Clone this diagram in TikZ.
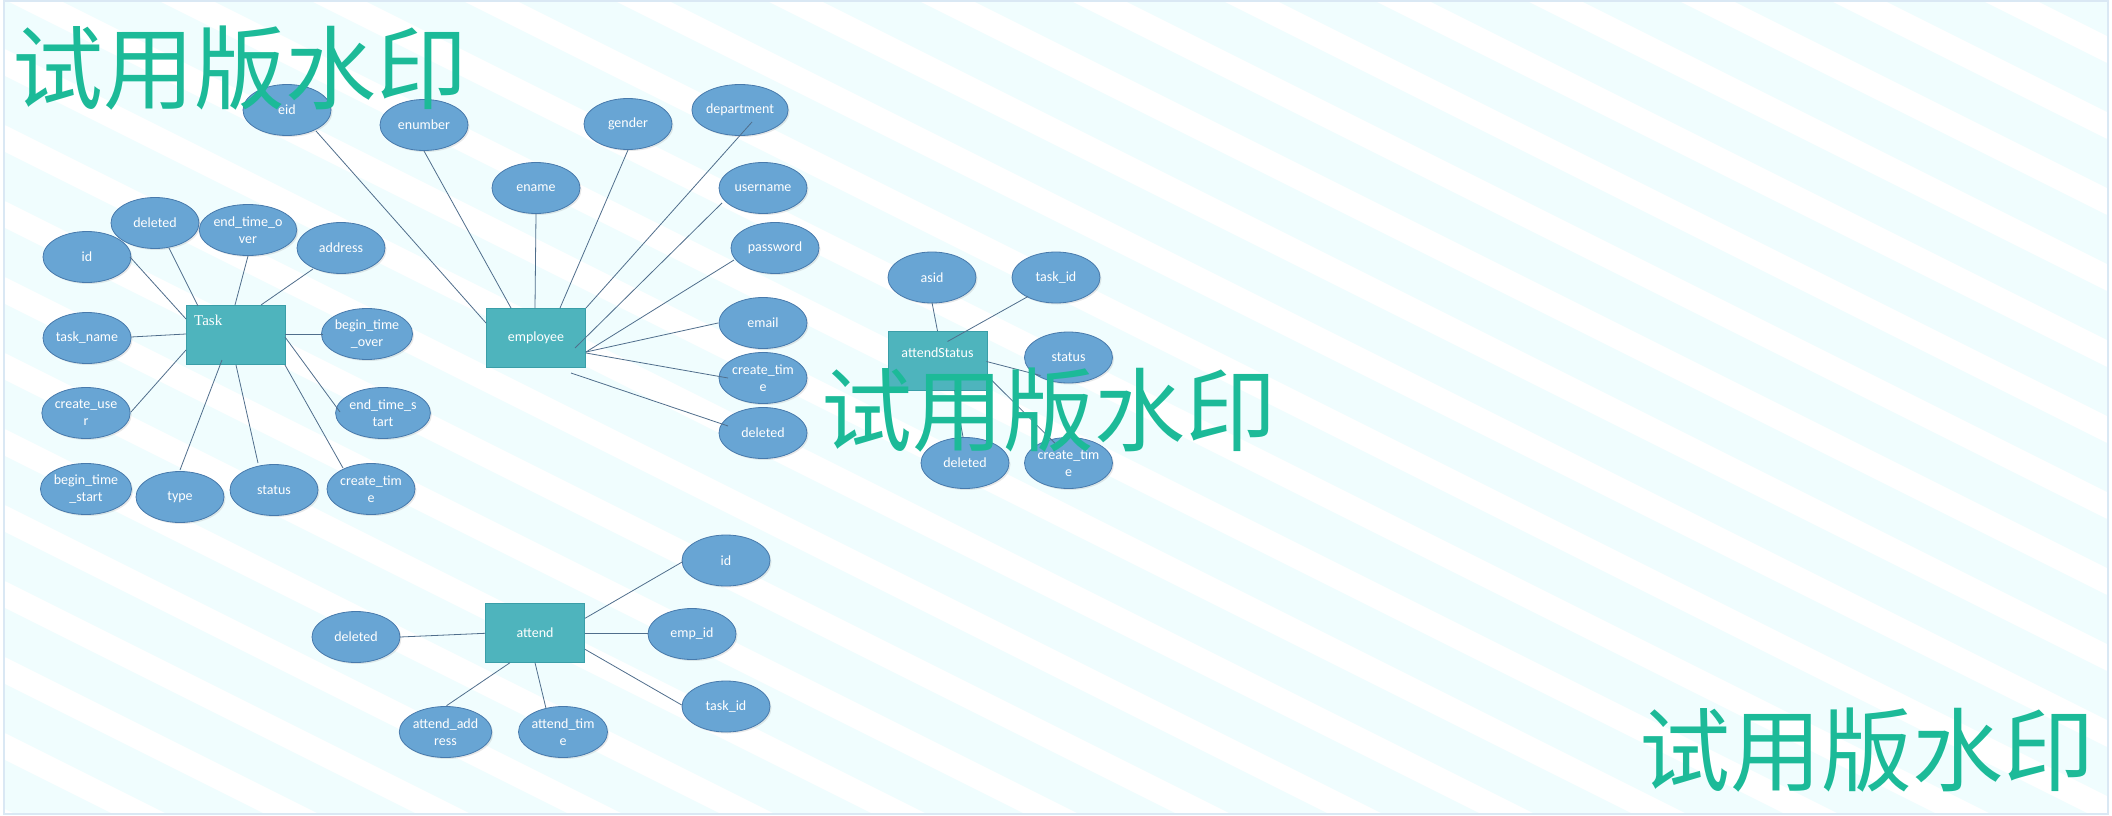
\documentclass[tikz,border=0pt]{standalone}
\usepackage{fontspec}
\setmainfont{Carlito}
\newfontfamily\cjkwm{Noto Sans CJK SC}
\newfontfamily\taskfont{Liberation Serif}
\usetikzlibrary{calc,shapes.geometric,shadows}
\definecolor{bgcyan}{RGB}{240,253,254}
\definecolor{framecol}{RGB}{218,232,244}
\definecolor{attrfill}{RGB}{104,165,212}
\definecolor{attrborder}{RGB}{72,122,172}
\definecolor{entfill}{RGB}{78,180,189}
\definecolor{entborder}{RGB}{58,158,168}
\definecolor{linecol}{RGB}{80,110,140}
\definecolor{wmgreen}{RGB}{28,186,152}
\tikzset{
  attr/.style={ellipse, draw=attrborder, fill=attrfill, line width=0.8pt,
    minimum width=88pt, minimum height=51pt, inner sep=0pt, text=white,
    font=\fontsize{14}{17}\selectfont, align=center,
    drop shadow={shadow xshift=1.5pt, shadow yshift=-1.5pt, opacity=0.18}},
  entity/.style={rectangle, draw=entborder, fill=entfill, line width=0.8pt,
    minimum width=99pt, minimum height=59pt, inner sep=0pt, text=white,
    font=\fontsize{14}{17}\selectfont},
  etext/.style={text=white, inner sep=0pt, font=\fontsize{14}{17}\selectfont},
  conn/.style={draw=linecol, line width=0.8pt},
  wm/.style={text=wmgreen, inner sep=0pt, font=\cjkwm\fontsize{91}{91}\selectfont, anchor=base west}
}
\begin{document}
\begin{tikzpicture}[x=1pt,y=-1pt]
\useasboundingbox (0,0) rectangle (2112,816);
% background
\fill[white] (0,0) rectangle (2112,816);
\fill[bgcyan] (4,1) rectangle (2108,814);
\begin{scope}
  \clip (4,1) rectangle (2108,814);
  \foreach \k in {-16,...,11} {
    \draw[white, line width=24pt] (0,{60+76*\k}) -- (2112,{60+76*\k+1056});
  }
\end{scope}
\draw[framecol, line width=1.5pt] (4,1) rectangle (2108,814);

% ---------------- Task ----------------
\node[entity] (task) at (235.5,334.5) {};
\node[text=white, inner sep=0pt, anchor=base west, font=\taskfont\fontsize{15}{15}\selectfont] (tasklbl) at (194,325) {Task};
\node[attr] (t_del) at (155,223) {deleted};
\node[attr] (t_id) at (87,257) {id};
\node[attr] (t_eto) at (248,230) {end\_time\_o\\ver};
\node[attr] (t_addr) at (341,248) {address};
\node[attr] (t_name) at (87,338) {task\_name};
\node[attr] (t_bto) at (367,334) {begin\_time\\\_over};
\node[attr] (t_cu) at (86,413) {create\_use\\r};
\node[attr] (t_ets) at (383,413) {end\_time\_s\\tart};
\node[attr] (t_bts) at (86,489) {begin\_time\\\_start};
\node[attr] (t_type) at (180,497) {type};
\node[attr] (t_stat) at (274,490) {status};
\node[attr] (t_ct) at (371,489) {create\_tim\\e};

\draw[conn] ($(t_id)+(43,0)$) -- ($(task)+(-49.5,-15.5)$);
\draw[conn] ($(t_del)+(14,25)$) -- ($(task)+(-37.5,-28.5)$);
\draw[conn] ($(t_eto)+(0,26)$) -- ($(task)+(-0.5,-29.5)$);
\draw[conn] ($(t_addr)+(-28,21)$) -- ($(task)+(25.5,-29.5)$);
\draw[conn] ($(t_name)+(44,-1)$) -- ($(task)+(-49.5,-0.5)$);
\draw[conn] ($(t_bto)+(-44,0)$) -- ($(task)+(49.5,-0.5)$);
\draw[conn] ($(t_cu)+(45,-1)$) -- ($(task)+(-49.5,15.5)$);
\draw[conn] ($(t_ets)+(-43,-1)$) -- ($(task)+(49.5,2.5)$);
\draw[conn] ($(t_type)+(0,-27)$) -- ($(task)+(-13.5,25.5)$);
\draw[conn] ($(t_stat)+(-16,-27)$) -- ($(task)+(0.5,30.5)$);
\draw[conn] ($(t_ct)+(-28,-21)$) -- ($(task)+(49.5,30.5)$);

% ---------------- employee ----------------
\node[entity] (emp) at (536,338) {employee};
\node[attr] (e_eid) at (287,110) {eid};
\node[attr] (e_enum) at (424,125) {enumber};
\node[attr] (e_ename) at (536,188) {ename};
\node[attr] (e_gender) at (628,124) {gender};
\node[attr] (e_dept) at (740,110) {department};
\node[attr] (e_user) at (763,188) {username};
\node[attr] (e_pass) at (775,248) {password};
\node[attr] (e_email) at (763,323) {email};
\node[attr] (e_ct) at (763,378) {create\_tim\\e};
\node[attr] (e_del) at (763,433) {deleted};

\draw[conn] ($(e_eid)+(29,21)$) -- ($(emp)+(-50,-15)$);
\draw[conn] ($(e_enum)+(0,26)$) -- ($(emp)+(-25,-30)$);
\draw[conn] ($(e_ename)+(0,26)$) -- ($(emp)+(-1,-30)$);
\draw[conn] ($(e_gender)+(0,26)$) -- ($(emp)+(24,-30)$);
\draw[conn] ($(e_dept)+(12,12)$) -- ($(emp)+(50,-30)$);
\draw[conn] ($(e_user)+(-41,15)$) -- ($(emp)+(39,10)$);
\draw[conn] ($(e_pass)+(-41,12)$) -- ($(emp)+(50,14)$);
\draw[conn] ($(e_email)+(-45,0)$) -- ($(emp)+(50,14)$);
\draw[conn] ($(e_ct)+(-35,0)$) -- ($(emp)+(50,15)$);
\draw[conn] ($(e_del)+(-35,-7)$) -- ($(emp)+(35,35)$);

% ---------------- attendStatus ----------------
\node[entity] (as) at (937.5,360.5) {};
\node[etext] (aslbl) at (937.5,352.5) {attendStatus};
\node[attr] (as_id) at (932,277.5) {asid};
\node[attr] (as_task) at (1056,277.5) {task\_id};
\node[attr] (as_stat) at (1068.5,357.5) {status};
\node[attr] (as_del) at (965,463) {deleted};
\node[attr] (as_ct) at (1068.5,463) {create\_tim\\e};

\draw[conn] ($(as_id)+(0,25)$) -- ($(as)+(0,-29.5)$);
\draw[conn] ($(as_task)+(-28,19)$) -- ($(as)+(10,-19)$);
\draw[conn] ($(as_stat)+(-28,18)$) -- ($(as)+(49,1)$);
\draw[conn] ($(as_del)+(-2,-26)$) -- ($(as)+(17,29.5)$);
\draw[conn] ($(as_ct)+(-13.5,-19.7)$) -- ($(as)+(49,14.5)$);

% ---------------- attend ----------------
\node[entity] (att) at (535,632.7) {attend};
\node[attr] (a_id) at (726,560.5) {id};
\node[attr] (a_del) at (356,637) {deleted};
\node[attr] (a_emp) at (692,634) {emp\_id};
\node[attr] (a_task) at (726,706.5) {task\_id};
\node[attr] (a_addr) at (445.5,732) {attend\_add\\ress};
\node[attr] (a_time) at (563,732) {attend\_tim\\e};

\draw[conn] ($(a_id)+(-43.3,1.2)$) -- ($(att)+(50,-14.4)$);
\draw[conn] ($(a_del)+(44,0)$) -- ($(att)+(-50,0.6)$);
\draw[conn] ($(a_emp)+(-43.7,-0.7)$) -- ($(att)+(50,0.6)$);
\draw[conn] ($(a_task)+(-44.3,-1.5)$) -- ($(att)+(50,16.6)$);
\draw[conn] ($(a_addr)+(1,-26.3)$) -- ($(att)+(-25,30)$);
\draw[conn] ($(a_time)+(-17,-23.7)$) -- ($(att)+(0,30)$);

% ---------------- watermarks ----------------
\node[wm] (wm1) at (12,102) {试用版水印};
\node[wm] (wm2) at (821,444) {试用版水印};
\node[wm] (wm3) at (1639,784) {试用版水印};
\end{tikzpicture}
\end{document}
